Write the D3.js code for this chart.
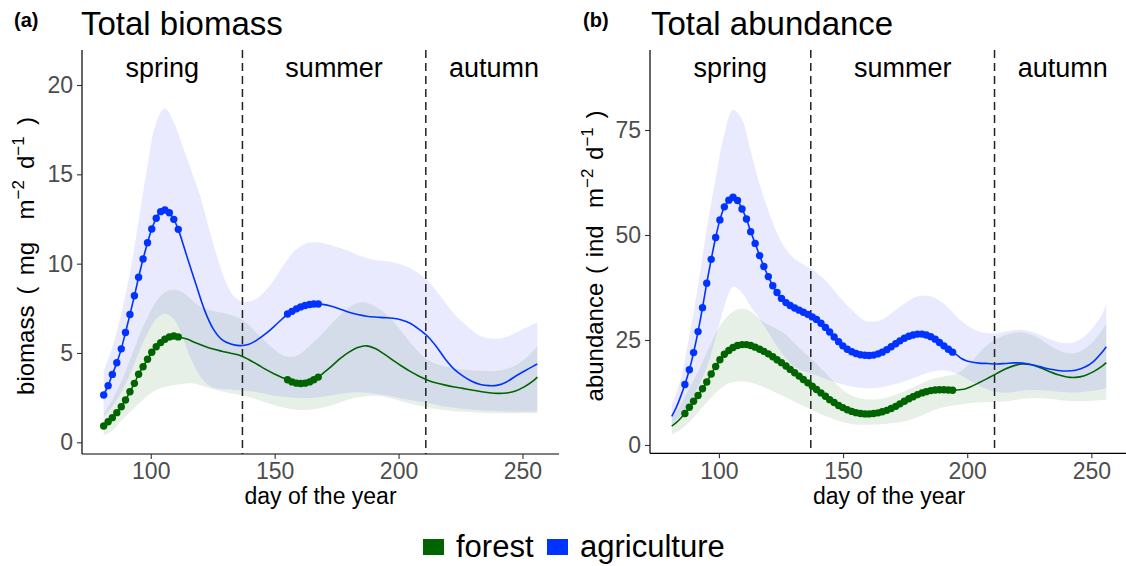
<!DOCTYPE html>
<html>
<head>
<meta charset="utf-8">
<script src="https://cdn.jsdelivr.net/npm/d3@7"></script>
<style>
  body { margin: 0; background: #fff; }
  text { font-family: "Liberation Sans", Arial, Helvetica, sans-serif; }
</style>
</head>
<body>
<svg id="chart" width="1126" height="566"></svg>
<script>
// ---- shared categories ----
const seasons = ["spring", "summer", "autumn"];
const seasonBreaks = [137, 211];
const seasonLabelDays = [104.6, 174, 238.5];
const xTicks = [100, 150, 200, 250];
const xLimits = [72.25, 264.75];
const groups = ["forest", "agriculture"];

// ---- (a) total biomass: fitted means ----
const biomassTicks = [0, 5, 10, 15, 20];
const biomassLimits = [-0.655, 21.96];
const biomassDays = [
  81.0, 82.8, 84.5, 86.3, 88.1, 89.8, 91.6, 93.4, 95.1, 96.9, 98.7, 100.4, 102.2, 104.0, 105.7, 107.5, 109.3, 111.1,
  114.6, 118.1, 121.7, 125.2, 128.7, 132.3, 135.8, 139.3, 142.9, 146.4, 149.9, 153.5,
  155.2, 157.0, 158.8, 160.5, 162.3, 164.1, 165.8, 167.6,
  169.4, 172.9, 176.5, 180.0, 183.5, 187.1, 190.6, 194.1, 197.7, 201.2, 204.7, 208.3, 211.8, 215.3, 218.9,
  222.4, 225.9, 229.5, 233.0, 236.6, 240.1, 243.6, 247.2, 250.7, 254.2, 256.0
];
const biomassAgri = [
  2.65, 3.17, 3.80, 4.45, 5.23, 6.15, 7.15, 8.20, 9.24, 10.26, 11.17, 11.94, 12.54, 12.91, 13.00, 12.85, 12.48, 11.92,
  10.4, 8.9, 7.4, 6.35, 5.75, 5.5, 5.41, 5.47, 5.73, 6.08, 6.5, 6.97,
  7.18, 7.33, 7.47, 7.58, 7.66, 7.71, 7.74, 7.74,
  7.72, 7.62, 7.45, 7.28, 7.15, 7.06, 7.01, 6.98, 6.94, 6.85, 6.66, 6.32, 5.92, 5.35, 4.65,
  4.1, 3.72, 3.42, 3.24, 3.17, 3.2, 3.38, 3.7, 3.98, 4.25, 4.38
];
const biomassForest = [
  0.91, 1.15, 1.38, 1.66, 1.99, 2.37, 2.83, 3.30, 3.81, 4.23, 4.65, 5.04, 5.35, 5.58, 5.77, 5.90, 5.95, 5.90,
  5.78, 5.57, 5.38, 5.22, 5.1, 4.99, 4.87, 4.65, 4.37, 4.08, 3.82, 3.6,
  3.5, 3.38, 3.31, 3.29, 3.31, 3.38, 3.5, 3.65,
  3.85, 4.25, 4.7, 5.05, 5.3, 5.4, 5.25, 4.95, 4.6, 4.27, 3.97, 3.7, 3.48, 3.32, 3.2,
  3.1, 3.02, 2.93, 2.84, 2.77, 2.74, 2.76, 2.87, 3.1, 3.42, 3.65
];
// stretches where the two land uses differ
const biomassDotSpans = [[81, 111.1], [155.2, 167.6]];

// ---- (a) confidence bands ----
const bandDays = [
  81.0, 84.5, 88.1, 91.6, 95.1, 98.7, 102.2, 105.7, 109.3, 112.8, 116.4, 119.9, 123.4, 127.0, 130.5, 134.0, 137.6,
  142.9, 148.2, 153.5, 158.8, 164.1, 169.4, 174.7, 180.0, 185.3, 190.6, 195.9, 201.2, 206.5, 211.8,
  217.1, 222.4, 227.7, 233.0, 238.3, 243.6, 248.9, 254.2, 256.0
];
const biomassAgriHigh = [
  4.0, 5.3, 7.2, 9.5, 12.4, 15.5, 17.9, 18.7, 17.9, 16.6, 15.2, 13.8, 12.0, 10.3, 8.9, 8.1, 7.85,
  8.05, 8.8, 9.9, 10.8, 11.18, 11.15, 10.95, 10.7, 10.38, 10.2, 10.12, 9.95, 9.6, 9.05,
  8.15, 7.2, 6.5, 5.95, 5.8, 5.9, 6.25, 6.6, 6.7
];
const biomassAgriLow = [
  1.45, 2.0, 2.8, 3.8, 5.0, 6.1, 6.9, 7.2, 6.9, 5.9, 4.6, 3.7, 3.2, 3.0, 2.97, 2.93, 2.9,
  2.8, 2.65, 2.55, 2.48, 2.48, 2.55, 2.68, 2.78, 2.8, 2.72, 2.6, 2.45, 2.33, 2.2,
  2.05, 1.93, 1.85, 1.8, 1.76, 1.73, 1.72, 1.72, 1.72
];
const biomassForestHigh = [
  1.6, 2.4, 3.4, 4.6, 5.9, 7.0, 7.9, 8.4, 8.55, 8.4, 8.0, 7.6, 7.4, 7.3, 7.2, 7.05, 6.8,
  6.1, 5.4, 4.85, 4.85, 5.4, 6.1, 6.9, 7.55, 7.85, 7.6, 7.05, 6.2, 5.3, 4.6,
  4.3, 4.15, 4.05, 4.0, 3.98, 4.1, 4.45, 5.1, 5.4
];
const biomassForestLow = [
  0.4, 0.65, 1.2, 1.7, 2.15, 2.6, 2.93, 3.1, 3.2, 3.27, 3.3, 3.2, 3.05, 2.9, 2.8, 2.7, 2.6,
  2.4, 2.15, 1.95, 1.82, 1.82, 1.95, 2.15, 2.4, 2.55, 2.6, 2.5, 2.3, 2.1, 1.95,
  1.82, 1.74, 1.7, 1.66, 1.63, 1.62, 1.62, 1.63, 1.63
];

// ---- (b) total abundance: fitted means ----
const abundanceTicks = [0, 25, 50, 75];
const abundanceLimits = [-1.98, 94.05];
const abundanceDays = [
  81.0, 82.8, 84.5, 86.3, 88.1, 89.8, 91.6, 93.4, 95.1, 96.9, 98.7, 100.4, 102.2, 104.0, 105.7, 107.5, 109.3, 111.1,
  112.8, 114.6, 116.4, 118.1, 119.9, 121.7, 123.4, 125.2, 127.0, 128.7, 130.5, 132.3, 134.0, 135.8, 137.6, 139.3,
  141.1, 142.9, 144.6, 146.4, 148.2, 149.9, 151.7, 153.5, 155.2, 157.0, 158.8, 160.5, 162.3, 164.1, 165.8, 167.6,
  169.4, 171.2, 172.9, 174.7, 176.5, 178.2, 180.0, 181.8, 183.5, 185.3, 187.1, 188.8, 190.6, 192.4, 194.1,
  195.9, 197.7, 199.4, 201.2, 204.7, 208.3, 211.8, 215.3, 218.9, 222.4, 225.9, 229.5, 233.0, 236.6, 240.1,
  243.6, 247.2, 250.7, 254.2, 256.0
];
const abundanceAgri = [
  6.8, 8.9, 11.4, 14.4, 17.9, 22.0, 27.0, 32.7, 38.5, 44.2, 49.4, 53.6, 56.7, 58.3, 59.0, 58.2, 56.2, 53.8,
  50.8, 48.0, 45.1, 42.5, 40.1, 37.9, 36.3, 34.9, 33.9, 33.2, 32.6, 32.1, 31.6, 31.1, 30.5, 29.9,
  29.0, 28.0, 26.9, 25.7, 24.6, 23.6, 22.8, 22.2, 21.8, 21.5, 21.35, 21.3, 21.4, 21.7, 22.1, 22.7,
  23.4, 24.1, 24.8, 25.4, 25.9, 26.2, 26.4, 26.4, 26.2, 25.8, 25.2, 24.4, 23.6, 22.8, 22.1,
  21.4, 20.6, 20.1, 19.8, 19.5, 19.4, 19.3, 19.4, 19.55, 19.5, 19.1, 18.6, 18.1, 17.75, 17.6,
  17.8, 18.5, 19.8, 22.0, 23.4
];
const abundanceForest = [
  4.5, 5.3, 6.3, 7.5, 9.0, 10.4, 11.8, 13.4, 15.0, 16.9, 18.7, 20.3, 21.6, 22.5, 23.2, 23.7, 23.9, 23.9,
  23.7, 23.3, 22.8, 22.3, 21.7, 21.0, 20.3, 19.6, 18.8, 18.0, 17.2, 16.4, 15.6, 14.8, 14.0, 13.2,
  12.4, 11.6, 10.8, 10.1, 9.4, 8.9, 8.4, 8.0, 7.7, 7.5, 7.4, 7.4, 7.5, 7.65, 7.9, 8.25,
  8.7, 9.2, 9.8, 10.4, 11.0, 11.5, 12.0, 12.4, 12.7, 12.95, 13.1, 13.15, 13.15, 13.1, 13.05,
  13.1, 13.2, 13.4, 13.8, 14.8, 15.9, 17.0, 18.1, 18.9, 19.3, 19.1, 18.4, 17.5, 16.7, 16.2,
  16.1, 16.5, 17.4, 18.7, 19.6
];
const abundanceDotSpans = [[86.3, 194.1]];

// ---- (b) confidence bands (same band days) ----
const abundanceAgriHigh = [
  9.5, 15.5, 26.0, 38.0, 51.5, 63.5, 74.0, 79.8, 77.5, 70.0, 62.0, 55.8, 50.5, 46.6, 44.3, 43.0, 41.8,
  39.2, 35.5, 32.2, 29.6, 29.5, 31.3, 33.6, 35.4, 35.4, 33.6, 30.5, 28.0, 26.8, 26.6,
  27.2, 27.4, 26.6, 25.3, 24.3, 24.6, 26.8, 31.0, 33.7
];
const abundanceAgriLow = [
  4.8, 7.0, 10.0, 13.8, 18.5, 25.5, 33.0, 37.7, 36.2, 33.0, 30.0, 26.8, 23.5, 20.6, 18.6, 17.6, 16.9,
  15.8, 14.7, 13.9, 13.5, 13.6, 14.2, 15.1, 16.3, 17.4, 17.8, 17.0, 15.3, 13.6, 12.6,
  12.5, 13.0, 13.1, 12.9, 12.6, 12.5, 12.8, 13.3, 13.5
];
const abundanceForestHigh = [
  6.5, 9.5, 13.5, 17.5, 22.0, 26.5, 29.8, 31.8, 32.5, 31.8, 30.0, 28.6, 27.6, 26.3, 24.2, 22.2, 20.3,
  17.2, 14.0, 11.8, 10.9, 10.9, 11.6, 12.8, 14.2, 15.6, 16.3, 17.0, 19.5, 23.0, 25.3,
  26.5, 26.8, 25.8, 23.8, 22.2, 21.9, 23.6, 27.3, 29.0
];
const abundanceForestLow = [
  2.4, 3.6, 5.5, 7.8, 10.2, 12.4, 14.1, 15.0, 15.2, 14.9, 14.2, 13.3, 12.3, 11.3, 10.3, 9.3, 8.3,
  6.9, 5.8, 5.0, 4.8, 4.9, 5.2, 5.6, 6.6, 8.0, 9.0, 9.5, 10.0, 10.2, 10.3,
  10.5, 11.0, 11.2, 11.0, 10.6, 10.4, 10.5, 10.7, 10.8
];

// ---- styling ----
const colors = { forest: "#006400", agriculture: "#0033ff" };
const bandColors = { forest: "#006400", agriculture: "#1f1fff" };
const bandOpacity = 0.095;
const font = '"Liberation Sans", Arial, Helvetica, sans-serif';

const svg = d3.select("#chart");

function drawPanel(cfg) {
  const g = svg.append("g");
  const x = d3.scaleLinear().domain(xLimits).range([cfg.left, cfg.right]);
  const y = d3.scaleLinear().domain(cfg.limits).range([cfg.bottom, cfg.top]);
  const curve = d3.curveCatmullRom.alpha(0.5);

  // confidence bands
  const bandSets = [
    { key: "forest", low: cfg.forestLow, high: cfg.forestHigh },
    { key: "agriculture", low: cfg.agriLow, high: cfg.agriHigh }
  ];
  const area = d3.area()
    .x(d => x(d.day)).y0(d => y(d.low)).y1(d => y(d.high)).curve(curve);
  bandSets.forEach(b => {
    const rows = bandDays.map((d, i) => ({ day: d, low: b.low[i], high: b.high[i] }));
    g.append("path").datum(rows)
      .attr("d", area)
      .attr("fill", bandColors[b.key])
      .attr("fill-opacity", bandOpacity);
  });

  // season boundaries
  g.selectAll("line.season").data(seasonBreaks).join("line")
    .attr("class", "season")
    .attr("x1", d => x(d)).attr("x2", d => x(d))
    .attr("y1", cfg.top).attr("y2", cfg.bottom)
    .attr("stroke", "#222").attr("stroke-width", 1.5)
    .attr("stroke-dasharray", "8,5");

  // season names
  g.selectAll("text.season").data(seasons).join("text")
    .attr("class", "season")
    .attr("x", (d, i) => x(seasonLabelDays[i]))
    .attr("y", cfg.top + 27)
    .attr("text-anchor", "middle")
    .attr("font-size", 27)
    .attr("fill", "#000")
    .text(d => d);

  // fitted means and dots
  const line = d3.line().x(d => x(d.day)).y(d => y(d.v)).curve(curve);
  const series = [
    { key: "forest", values: cfg.forest },
    { key: "agriculture", values: cfg.agri }
  ];
  series.forEach(s => {
    const rows = cfg.days.map((d, i) => ({ day: d, v: s.values[i] }));
    g.append("path").datum(rows)
      .attr("d", line)
      .attr("fill", "none")
      .attr("stroke", colors[s.key])
      .attr("stroke-width", 1.6);
    const dots = rows.filter(r => cfg.dotSpans.some(sp => r.day >= sp[0] - 0.01 && r.day <= sp[1] + 0.01));
    g.append("g").selectAll("circle").data(dots).join("circle")
      .attr("cx", d => x(d.day)).attr("cy", d => y(d.v))
      .attr("r", 3.7)
      .attr("fill", colors[s.key]);
  });

  // axes
  const yAxis = d3.axisLeft(y).tickValues(cfg.ticks).tickSize(5).tickSizeOuter(0).tickPadding(4);
  const xAxis = d3.axisBottom(x).tickValues(xTicks).tickSize(5).tickSizeOuter(0).tickPadding(4);
  const ya = g.append("g").attr("transform", `translate(${cfg.left},0)`).call(yAxis);
  const xa = g.append("g").attr("transform", `translate(0,${cfg.bottom})`).call(xAxis);
  ya.select(".domain").attr("d", `M0,${cfg.top}V${cfg.bottom}`);
  xa.select(".domain").attr("d", `M${cfg.left},0H${cfg.right}`);
  [ya, xa].forEach(a => {
    a.select(".domain").attr("stroke", "#000").attr("stroke-width", 1.2);
    a.selectAll(".tick line").attr("stroke", "#333").attr("stroke-width", 1.1);
    a.selectAll(".tick text").attr("fill", "#4d4d4d").attr("font-size", 23).attr("font-family", font);
  });

  // axis titles
  g.append("text")
    .attr("x", x((xLimits[0] + xLimits[1]) / 2))
    .attr("y", 504)
    .attr("text-anchor", "middle")
    .attr("font-size", 23)
    .text("day of the year");

  const ty = g.append("text")
    .attr("transform", `translate(${cfg.yTitleX},256) rotate(-90)`)
    .attr("text-anchor", "middle")
    .attr("font-size", 24)
    .attr("word-spacing", cfg.yTitleSpacing)
    .style("white-space", "pre");
  ty.append("tspan").text(cfg.yTitleMain + "  m");
  ty.append("tspan").attr("font-size", 17).attr("dy", -10).text("\u22122");
  ty.append("tspan").attr("dy", 10).text(" d");
  ty.append("tspan").attr("font-size", 17).attr("dy", -10).text("\u22121");
  ty.append("tspan").attr("dy", 10).text(" )");

  // panel tag and title
  g.append("text").attr("x", cfg.tagX).attr("y", 27)
    .attr("font-size", 20).attr("font-weight", "bold").text(cfg.tag);
  g.append("text").attr("x", cfg.titleX).attr("y", 35)
    .attr("font-size", 33).text(cfg.title);
}

drawPanel({
  left: 82, right: 559, top: 50, bottom: 454,
  limits: biomassLimits, ticks: biomassTicks,
  days: biomassDays, forest: biomassForest, agri: biomassAgri, dotSpans: biomassDotSpans,
  forestLow: biomassForestLow, forestHigh: biomassForestHigh,
  agriLow: biomassAgriLow, agriHigh: biomassAgriHigh,
  yTitleX: 34, yTitleMain: "biomass ( mg", yTitleSpacing: 4.5,
  tag: "(a)", tagX: 14, title: "Total biomass", titleX: 81
});

drawPanel({
  left: 650, right: 1128, top: 50, bottom: 453.3,
  limits: abundanceLimits, ticks: abundanceTicks,
  days: abundanceDays, forest: abundanceForest, agri: abundanceAgri, dotSpans: abundanceDotSpans,
  forestLow: abundanceForestLow, forestHigh: abundanceForestHigh,
  agriLow: abundanceAgriLow, agriHigh: abundanceAgriHigh,
  yTitleX: 603, yTitleMain: "abundance ( ind", yTitleSpacing: 2,
  tag: "(b)", tagX: 583, title: "Total abundance", titleX: 651
});

// legend
const legendX = [423, 547];
const legend = svg.append("g");
groups.forEach((k, i) => {
  legend.append("rect")
    .attr("x", legendX[i]).attr("y", 539).attr("width", 21).attr("height", 16)
    .attr("fill", colors[k]);
  legend.append("text")
    .attr("x", legendX[i] + 33).attr("y", 557)
    .attr("font-size", 31).text(k);
});
</script>
</body>
</html>
